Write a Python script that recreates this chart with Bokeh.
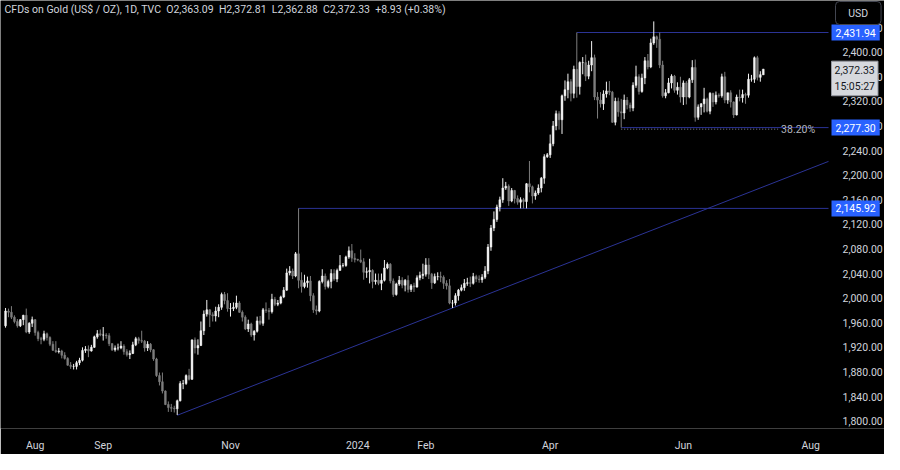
import numpy as np
import pandas as pd
from bokeh.plotting import figure
from bokeh.models import (ColumnDataSource, FixedTicker, NumeralTickFormatter, Label,
                          Range1d, LinearAxis)
from bokeh.embed import file_html
from bokeh.resources import INLINE

# ---------------- data (daily bars, weekdays from first_date) ----------------
first_date = "2023-07-18"

opens = [
    1955, 1979, 1977, 1969, 1962, 1955, 1965, 1972, 1945, 1959,
    1965, 1944, 1934, 1933, 1942, 1936, 1925, 1915, 1913, 1914, 1907, 1902, 1891, 1889, 1889, 1895, 1899, 1915, 1917, 1914, 1920, 1937, 1942,
    1940, 1940, 1939, 1926, 1916, 1919, 1919, 1922, 1913, 1908, 1910, 1924, 1934, 1931, 1930, 1919, 1925, 1916, 1901, 1874, 1864,
    1849, 1827, 1822, 1821, 1820, 1833, 1861, 1861, 1874, 1868, 1932, 1919, 1923, 1947, 1974, 1981, 1973, 1971, 1979, 1985, 2006, 1996,
    1983, 1983, 1985, 1992, 1977, 1969, 1950, 1958, 1940, 1946, 1963, 1959, 1981, 1980, 1978, 1998, 1990, 1992, 2002, 2013, 2041, 2044,
    2036, 2072, 2029, 2019, 2025, 2028, 2004, 1981, 1979, 2027, 2036, 2019, 2027, 2040, 2031, 2045, 2053, 2053, 2067, 2077, 2065,
    2063, 2062, 2059, 2042, 2043, 2045, 2027, 2029, 2024, 2029, 2049, 2055, 2028, 2006, 2023, 2029, 2021, 2029, 2014, 2020, 2018, 2033, 2037,
    2039, 2054, 2039, 2025, 2035, 2035, 2034, 2024, 2020, 1992, 1992, 2004, 2013, 2017, 2024, 2025, 2024, 2035, 2031, 2030, 2034,
    2044, 2083, 2114, 2128, 2148, 2160, 2179, 2182, 2158, 2175, 2162, 2156, 2160, 2157, 2186, 2181, 2166, 2171, 2179, 2195, 2230,
    2233, 2251, 2280, 2300, 2290, 2329, 2339, 2352, 2333, 2372, 2344, 2383, 2383, 2361, 2379, 2391, 2327, 2322, 2316, 2332, 2337, 2335,
    2286, 2320, 2303, 2301, 2322, 2314, 2309, 2346, 2360, 2336, 2358, 2386, 2376, 2415, 2425, 2421, 2379, 2329, 2334, 2350, 2361, 2338, 2343,
    2327, 2350, 2327, 2355, 2375, 2294, 2311, 2316, 2324, 2304, 2333, 2319, 2330, 2329, 2360, 2322, 2334, 2319, 2298, 2327,
    2326, 2331, 2330, 2356, 2356, 2391, 2359, 2363.09,
]
highs = [
    1984, 1983, 1987, 1972, 1966, 1966, 1973, 1983, 1961, 1970,
    1966, 1947, 1937, 1947, 1944, 1938, 1930, 1930, 1919, 1916, 1912, 1904, 1896, 1893, 1898, 1903, 1920, 1922, 1923, 1924, 1939, 1948, 1949,
    1953, 1943, 1943, 1927, 1923, 1926, 1930, 1925, 1917, 1915, 1929, 1937, 1937, 1947, 1932, 1930, 1927, 1917, 1903, 1879, 1879,
    1850, 1832, 1828, 1825, 1835, 1865, 1867, 1876, 1885, 1933, 1936, 1933, 1962, 1980, 1997, 1982, 1977, 1986, 1990, 2009, 2010, 2008,
    1992, 1993, 2004, 1995, 1980, 1972, 1965, 1960, 1948, 1970, 1971, 1984, 1993, 1984, 2007, 2002, 1997, 2004, 2018, 2048, 2052, 2048,
    2075, 2146, 2042, 2038, 2035, 2036, 2008, 1988, 2029, 2047, 2040, 2030, 2047, 2047, 2048, 2070, 2057, 2069, 2084, 2088, 2073,
    2064, 2079, 2065, 2050, 2064, 2047, 2040, 2040, 2040, 2062, 2058, 2057, 2032, 2025, 2036, 2034, 2031, 2037, 2023, 2025, 2037, 2043, 2056,
    2065, 2065, 2041, 2040, 2042, 2043, 2037, 2029, 2031, 1997, 2008, 2015, 2022, 2031, 2033, 2035, 2041, 2038, 2037, 2039, 2052,
    2088, 2119, 2141, 2152, 2165, 2195, 2189, 2185, 2179, 2176, 2167, 2164, 2163, 2187, 2223, 2183, 2175, 2185, 2197, 2234, 2236,
    2266, 2288, 2305, 2304, 2331, 2354, 2365, 2356, 2378, 2431.94, 2385, 2392, 2396, 2386, 2418, 2396, 2335, 2335, 2338, 2352, 2353, 2337,
    2326, 2326, 2324, 2331, 2327, 2318, 2351, 2378, 2364, 2365, 2392, 2397, 2422, 2450, 2427, 2432, 2386, 2340, 2358, 2364, 2363, 2351, 2360,
    2354, 2353, 2358, 2387, 2388, 2315, 2317, 2342, 2326, 2335, 2334, 2336, 2333, 2365, 2368, 2334, 2338, 2320, 2331, 2339,
    2339, 2334, 2365, 2363, 2393, 2394, 2369, 2372.81,
]
lows = [
    1952, 1969, 1966, 1959, 1952, 1953, 1956, 1943, 1942, 1953,
    1939, 1930, 1925, 1930, 1931, 1922, 1915, 1911, 1910, 1902, 1900, 1890, 1885, 1884, 1884, 1891, 1897, 1911, 1904, 1913, 1919, 1934, 1938,
    1931, 1934, 1922, 1914, 1913, 1915, 1917, 1908, 1905, 1901, 1909, 1922, 1926, 1927, 1913, 1914, 1912, 1898, 1872, 1858, 1845,
    1826, 1815, 1815, 1814, 1810, 1832, 1852, 1859, 1866, 1867, 1910, 1908, 1922, 1940, 1970, 1953, 1962, 1962, 1969, 1981, 1990, 1978,
    1970, 1979, 1982, 1976, 1962, 1948, 1945, 1937, 1931, 1944, 1956, 1955, 1976, 1965, 1975, 1987, 1987, 1990, 2000, 2012, 2037, 2031,
    2034, 2016, 2009, 2016, 2017, 1995, 1976, 1973, 1977, 2024, 2014, 2016, 2016, 2028, 2026, 2045, 2050, 2051, 2064, 2059, 2058,
    2060, 2057, 2030, 2033, 2024, 2016, 2022, 2021, 2013, 2027, 2047, 2024, 2002, 2004, 2020, 2016, 2011, 2009, 2010, 2010, 2017, 2029, 2031,
    2035, 2031, 2015, 2023, 2029, 2026, 2015, 2014, 1990, 1984, 1988, 1996, 2011, 2012, 2020, 2018, 2022, 2026, 2025, 2025, 2031,
    2039, 2077, 2109, 2124, 2141, 2155, 2176, 2150, 2156, 2154, 2152, 2146, 2146, 2146, 2172, 2154, 2160, 2168, 2172, 2186, 2228,
    2228, 2247, 2273, 2274, 2267, 2321, 2325, 2320, 2325, 2326, 2331, 2364, 2353, 2356, 2369, 2322, 2292, 2310, 2306, 2326, 2330, 2285,
    2281, 2295, 2277.30, 2291, 2307, 2303, 2304, 2342, 2331, 2334, 2348, 2372, 2374, 2412, 2407, 2374, 2326, 2325, 2333, 2341, 2334, 2331, 2318,
    2314, 2315, 2325, 2350, 2287, 2290, 2298, 2302, 2302, 2299, 2311, 2315, 2326, 2326, 2317, 2316, 2310, 2293, 2297, 2320,
    2318, 2316, 2326, 2352, 2350, 2354, 2352, 2362.88,
]
closes = [
    1979, 1977, 1969, 1962, 1955, 1965, 1972, 1945, 1959, 1965,
    1944, 1934, 1933, 1942, 1936, 1925, 1915, 1913, 1914, 1907, 1902, 1891, 1889, 1889, 1895, 1899, 1915, 1917, 1914, 1920, 1937, 1942, 1940,
    1940, 1939, 1926, 1916, 1919, 1919, 1922, 1913, 1908, 1910, 1924, 1934, 1931, 1930, 1919, 1925, 1916, 1901, 1874, 1864, 1849,
    1827, 1822, 1821, 1820, 1833, 1861, 1861, 1874, 1868, 1932, 1919, 1923, 1947, 1974, 1981, 1973, 1971, 1979, 1985, 2006, 1996, 1983,
    1983, 1985, 1992, 1977, 1969, 1950, 1958, 1940, 1946, 1963, 1959, 1981, 1980, 1978, 1998, 1990, 1992, 2002, 2013, 2041, 2044, 2036,
    2072, 2029, 2019, 2025, 2028, 2004, 1981, 1979, 2027, 2036, 2019, 2027, 2040, 2031, 2045, 2053, 2053, 2067, 2077, 2065, 2063,
    2062, 2059, 2042, 2043, 2045, 2027, 2029, 2024, 2029, 2049, 2055, 2028, 2006, 2023, 2029, 2021, 2029, 2014, 2020, 2018, 2033, 2037, 2039,
    2054, 2039, 2025, 2035, 2035, 2034, 2024, 2020, 1992, 1992, 2004, 2013, 2017, 2024, 2025, 2024, 2035, 2031, 2030, 2034, 2044,
    2083, 2114, 2128, 2148, 2160, 2179, 2182, 2158, 2175, 2162, 2156, 2160, 2157, 2186, 2181, 2166, 2171, 2179, 2195, 2230, 2233,
    2251, 2280, 2300, 2290, 2329, 2339, 2352, 2333, 2372, 2344, 2383, 2383, 2361, 2379, 2391, 2327, 2322, 2316, 2332, 2337, 2335, 2286,
    2320, 2303, 2301, 2322, 2314, 2309, 2346, 2360, 2336, 2358, 2386, 2376, 2415, 2425, 2421, 2379, 2329, 2334, 2350, 2361, 2338, 2343, 2327,
    2350, 2327, 2355, 2375, 2294, 2311, 2316, 2324, 2304, 2333, 2319, 2330, 2329, 2360, 2322, 2334, 2319, 2298, 2327, 2326,
    2331, 2330, 2356, 2356, 2391, 2359, 2363.40, 2372.33,
]

month_tick_dates = ["2023-08-01", "2023-09-01", "2023-11-01", "2024-01-01",
                    "2024-02-01", "2024-04-01", "2024-06-03", "2024-08-01"]
month_tick_labels = ["Aug", "Sep", "Nov", "2024", "Feb", "Apr", "Jun", "Aug"]
price_ticks = [1800, 1840, 1880, 1920, 1960, 2000, 2040, 2080, 2120, 2160,
               2200, 2240, 2280, 2320, 2360, 2400, 2440]

level_prices = [2431.94, 2277.30, 2145.92]
level_start_dates = ["2024-04-12", "2024-05-03", "2023-12-04"]
trend_dates = ["2023-10-06", "2024-02-14"]
trend_prices = [1809.5, 1984.0]
fib_price = 2277.30
fib_dates = ["2024-05-03", "2024-07-17"]
fib_text = "38.20%"
last_price = 2372.33
countdown = "15:05:27"
title_text = ("CFDs on Gold (US$ / OZ), 1D, TVC\u00a0\u00a0O2,363.09\u00a0\u00a0H2,372.81"
              "\u00a0\u00a0L2,362.88\u00a0\u00a0C2,372.33\u00a0\u00a0+8.93 (+0.38%)")

# ---------------- helpers ----------------
days = pd.bdate_range(first_date, "2024-09-30")


def bar_index(d):
    return int(days.searchsorted(pd.Timestamp(d)))


n = len(closes)
idx = np.arange(n)
o = np.array(opens, dtype=float)
c = np.array(closes, dtype=float)
UP, DOWN = "#f4f4f4", "#7e7e7e"
colors = np.where(c >= o, UP, DOWN)
src = ColumnDataSource(dict(x=idx, h=highs, l=lows, top=np.maximum(o, c),
                            bottom=np.minimum(o, c), color=colors))

W, H = 884, 454
PX_PER_BAR = 2.96
STRIP = 56                      # width of the price scale strip (px)
X0 = -1.7
X1 = X0 + W / PX_PER_BAR        # frame spans whole width
XS = X0 + (W - STRIP) / PX_PER_BAR   # data x where the price scale begins
Y0, Y1 = 1788.0, 2484.0
FONT = "Roboto"
TXT = "#d1d4dc"
RAY = "#2b3395"
BLUE = "#2962ff"

p = figure(width=W, height=H, x_range=Range1d(X0, X1), y_range=Range1d(Y0, Y1),
           y_axis_location=None, output_backend="svg", toolbar_location=None,
           background_fill_color="#000000", border_fill_color="#000000",
           outline_line_color=None, min_border_left=0, min_border_top=0,
           min_border_right=0, min_border_bottom=0)
p.grid.visible = False

# annotation lines (under candles)
for price, d in zip(level_prices, level_start_dates):
    p.segment(x0=[bar_index(d)], y0=[price], x1=[XS], y1=[price], line_color=RAY, line_width=1)

i1, i2 = bar_index(trend_dates[0]), bar_index(trend_dates[1])
slope = (trend_prices[1] - trend_prices[0]) / (i2 - i1)
p.segment(x0=[i1], y0=[trend_prices[0]], x1=[XS], y1=[trend_prices[0] + slope * (XS - i1)],
          line_color=RAY, line_width=1)

f0, f1 = bar_index(fib_dates[0]), bar_index(fib_dates[1])
p.segment(x0=[f0], y0=[fib_price - 2.5], x1=[f1], y1=[fib_price - 2.5],
          line_color="#8c8f99", line_width=1, line_dash="1 2")

# candles
p.segment(x0="x", y0="l", x1="x", y1="h", source=src, line_color="color", line_width=1)
p.vbar(x="x", width=0.62, top="top", bottom="bottom", source=src,
       fill_color="color", line_color="color", line_width=0.5)

# price scale: real axis drawn at a fixed location inside the right strip
yax = LinearAxis(fixed_location=XS, ticker=FixedTicker(ticks=price_ticks),
                 formatter=NumeralTickFormatter(format="0,0.00"))
p.add_layout(yax, "right")

xax = p.xaxis[0]
xax.ticker = FixedTicker(ticks=[bar_index(d) for d in month_tick_dates])
xax.major_label_overrides = {bar_index(d): lab for d, lab in zip(month_tick_dates, month_tick_labels)}
for ax in (xax, yax):
    ax.axis_line_color = None
    ax.major_tick_line_color = None
    ax.minor_tick_line_color = None
    ax.major_label_text_color = TXT
    ax.major_label_text_font = FONT
    ax.major_label_text_font_size = "10.5px"
yax.major_label_standoff = 8
xax.major_label_standoff = 4

# labels
p.add_layout(Label(x=X0, y=Y1, x_offset=4, y_offset=-2, text=title_text, text_font=FONT,
                   text_font_size="10.5px", text_color=TXT, text_baseline="top", text_align="left"))
p.add_layout(Label(x=f1, y=fib_price - 2.5, x_offset=3, text=fib_text, text_font=FONT,
                   text_font_size="10.5px", text_color="#b2b5be", text_baseline="middle"))
for price in level_prices:
    p.add_layout(Label(x=XS, y=price, x_offset=3, text=f"{price:,.2f}", text_font=FONT,
                       text_font_size="10.5px", text_color="#ffffff", text_baseline="middle",
                       background_fill_color=BLUE, padding=4))
p.add_layout(Label(x=XS, y=last_price, x_offset=3, y_offset=8,
                   text=f"{last_price:,.2f}\n{countdown}", text_font=FONT,
                   text_font_size="10.5px", text_color="#131722", text_baseline="top",
                   background_fill_color="#d6d8dd", border_line_color="#9598a1", padding=3))
p.add_layout(Label(x=XS, y=Y1, x_offset=7, y_offset=-1,
                   text="\u00a0\u00a0\u00a0USD\u00a0\u00a0\u00a0",
                   text_font=FONT, text_font_size="10.5px", text_color=TXT, text_baseline="top",
                   background_fill_color="#000000", border_line_color="#434651",
                   border_radius=4, padding=5))

open("out.html", "w").write(file_html(p, INLINE))
